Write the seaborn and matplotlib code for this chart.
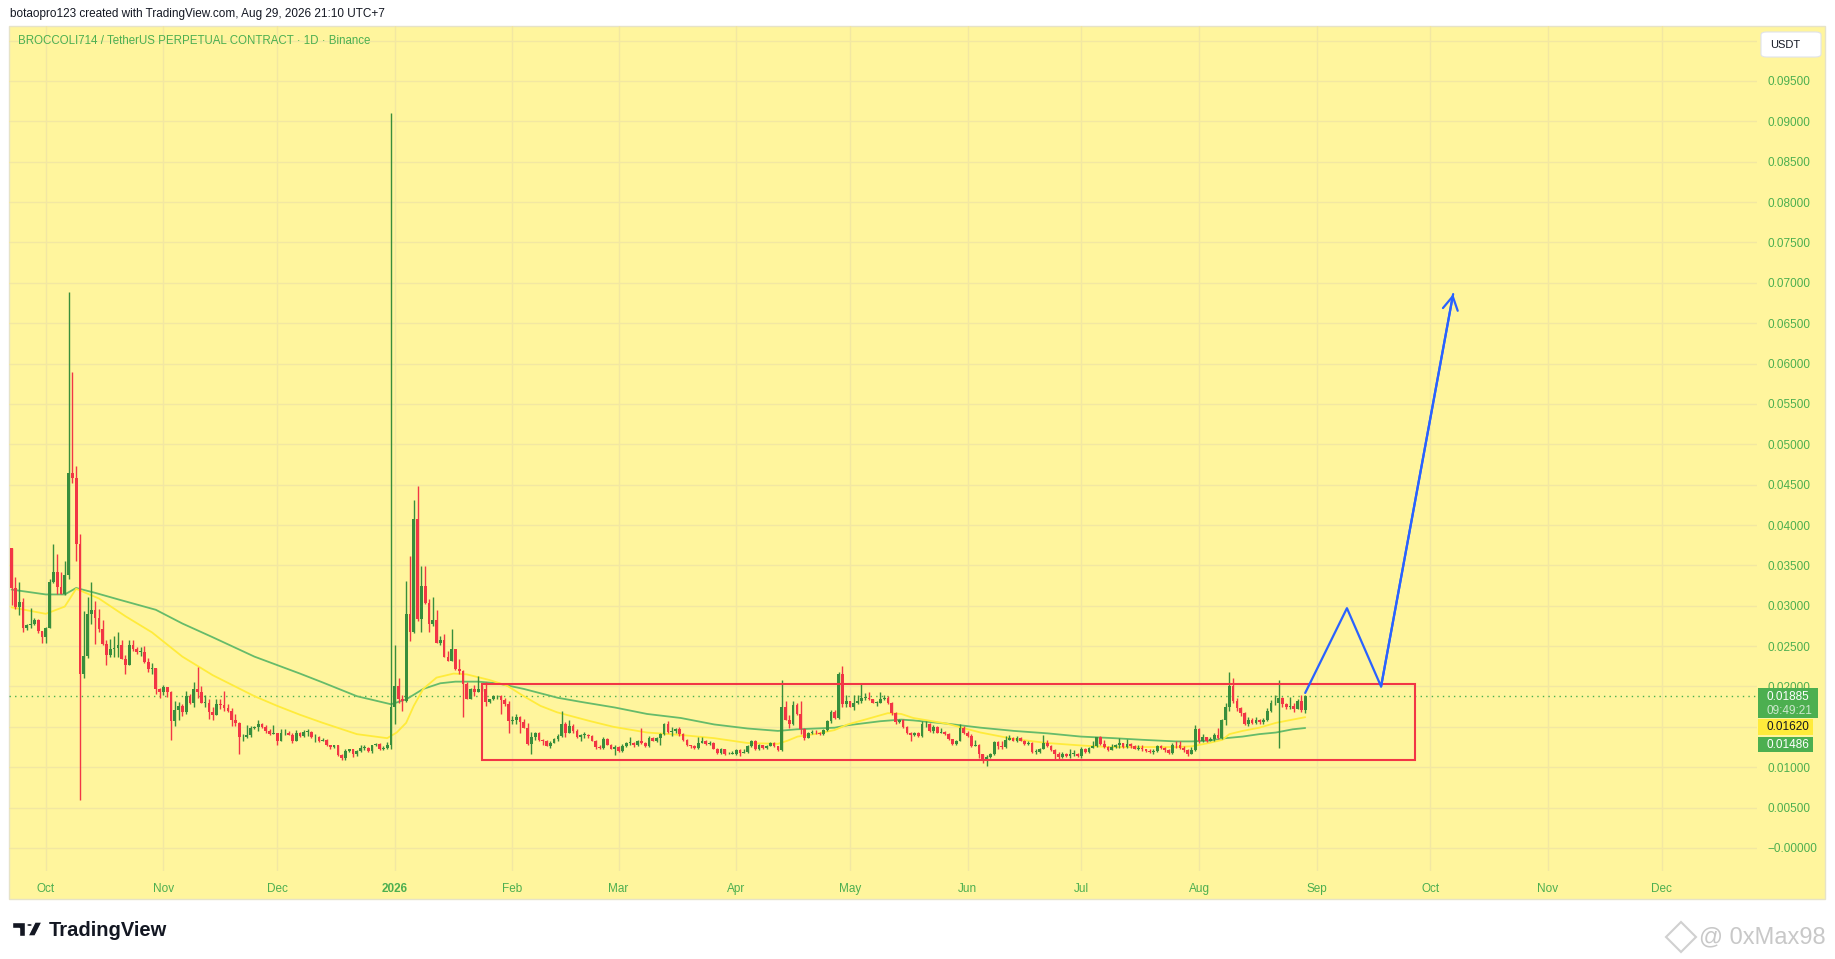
import matplotlib
matplotlib.use("Agg")
import matplotlib.pyplot as plt
from matplotlib.patches import Rectangle, FancyBboxPatch, Polygon, Circle
import matplotlib.dates as mdates
import numpy as np
import pandas as pd
import seaborn as sns

# ---- values ----
header = "botaopro123 created with TradingView.com, Aug 29, 2026 21:10 UTC+7"
symbol = "BROCCOLI714 / TetherUS PERPETUAL CONTRACT \u00b7 1D \u00b7 Binance"
first_day = "2025-09-22"
first_open = 0.0372

close = [
    0.0322, 0.0298, 0.0305, 0.0272, 0.0276, 0.0278, 0.0282, 0.0269, 0.0261, 0.0273,
    0.0329, 0.0342, 0.0323, 0.0314, 0.0338, 0.0464, 0.0458, 0.0376, 0.0216, 0.0238,
    0.0290, 0.0295, 0.0285, 0.0271, 0.0253, 0.0239, 0.0247, 0.0248, 0.0252, 0.0234,
    0.0227, 0.0251, 0.0247, 0.0243, 0.0243, 0.0230, 0.0222, 0.0223, 0.0197, 0.0193,
    0.0199, 0.0193, 0.0157, 0.0171, 0.0176, 0.0169, 0.0188, 0.0180, 0.0197, 0.0193,
    0.0180, 0.0180, 0.0169, 0.0165, 0.0178, 0.0177, 0.0173, 0.0170, 0.0159, 0.0155,
    0.0137, 0.0137, 0.0140, 0.0148, 0.0150, 0.0153, 0.0150, 0.0145, 0.0141, 0.0142,
    0.0133, 0.0142, 0.0142, 0.0140, 0.0133, 0.0142, 0.0139, 0.0144, 0.0144, 0.0137,
    0.0138, 0.0133, 0.0134, 0.0127, 0.0125, 0.0127, 0.0115, 0.0111, 0.0120, 0.0122,
    0.0116, 0.0120, 0.0124, 0.0124, 0.0120, 0.0127, 0.0129, 0.0122, 0.0124, 0.0128,
    0.0175, 0.0200, 0.0184, 0.0182, 0.0290, 0.0267, 0.0407, 0.0283, 0.0325, 0.0304,
    0.0277, 0.0282, 0.0254, 0.0257, 0.0237, 0.0232, 0.0246, 0.0222, 0.0219, 0.0203,
    0.0185, 0.0197, 0.0193, 0.0197, 0.0197, 0.0181, 0.0184, 0.0188, 0.0188, 0.0183,
    0.0178, 0.0157, 0.0159, 0.0162, 0.0156, 0.0149, 0.0129, 0.0138, 0.0142, 0.0134,
    0.0133, 0.0126, 0.0130, 0.0135, 0.0139, 0.0153, 0.0143, 0.0151, 0.0145, 0.0137,
    0.0140, 0.0140, 0.0139, 0.0133, 0.0125, 0.0124, 0.0135, 0.0128, 0.0123, 0.0125,
    0.0120, 0.0126, 0.0130, 0.0130, 0.0127, 0.0132, 0.0130, 0.0126, 0.0136, 0.0133,
    0.0136, 0.0141, 0.0153, 0.0144, 0.0145, 0.0147, 0.0141, 0.0134, 0.0127, 0.0126,
    0.0124, 0.0130, 0.0132, 0.0129, 0.0130, 0.0123, 0.0118, 0.0122, 0.0116, 0.0117,
    0.0117, 0.0121, 0.0118, 0.0119, 0.0126, 0.0133, 0.0122, 0.0128, 0.0124, 0.0126,
    0.0130, 0.0126, 0.0121, 0.0174, 0.0159, 0.0153, 0.0177, 0.0166, 0.0147, 0.0136,
    0.0143, 0.0143, 0.0142, 0.0141, 0.0146, 0.0157, 0.0169, 0.0161, 0.0215, 0.0178,
    0.0182, 0.0174, 0.0180, 0.0182, 0.0186, 0.0186, 0.0184, 0.0180, 0.0180, 0.0184,
    0.0186, 0.0179, 0.0167, 0.0156, 0.0159, 0.0150, 0.0142, 0.0140, 0.0142, 0.0139,
    0.0153, 0.0154, 0.0145, 0.0150, 0.0143, 0.0144, 0.0141, 0.0135, 0.0129, 0.0133,
    0.0148, 0.0143, 0.0139, 0.0126, 0.0127, 0.0116, 0.0110, 0.0113, 0.0117, 0.0131,
    0.0126, 0.0125, 0.0134, 0.0136, 0.0133, 0.0136, 0.0133, 0.0129, 0.0130, 0.0119,
    0.0119, 0.0123, 0.0130, 0.0126, 0.0121, 0.0117, 0.0113, 0.0117, 0.0114, 0.0117,
    0.0117, 0.0114, 0.0123, 0.0119, 0.0124, 0.0126, 0.0137, 0.0129, 0.0125, 0.0121,
    0.0125, 0.0127, 0.0130, 0.0125, 0.0129, 0.0126, 0.0123, 0.0124, 0.0122, 0.0120,
    0.0119, 0.0120, 0.0126, 0.0124, 0.0121, 0.0118, 0.0128, 0.0127, 0.0124, 0.0121,
    0.0117, 0.0121, 0.0147, 0.0132, 0.0138, 0.0133, 0.0135, 0.0140, 0.0136, 0.0159,
    0.0175, 0.0201, 0.0182, 0.0173, 0.0167, 0.0154, 0.0159, 0.0155, 0.0158, 0.0156,
    0.0159, 0.0170, 0.0179, 0.0180, 0.0186, 0.0178, 0.0175, 0.0176, 0.0172, 0.0182,
    0.0171, 0.01885,
]

high = [
    0.0372, 0.0335, 0.0329, 0.0309, 0.0278, 0.0297, 0.0285, 0.0284, 0.0262, 0.0274,
    0.0333, 0.0377, 0.0364, 0.0342, 0.0355, 0.0689, 0.0589, 0.0473, 0.0389, 0.0293,
    0.0311, 0.0329, 0.0306, 0.0296, 0.0282, 0.0258, 0.0259, 0.0262, 0.0267, 0.0257,
    0.0239, 0.0258, 0.0258, 0.0249, 0.0249, 0.0250, 0.0235, 0.0229, 0.0222, 0.0198,
    0.0202, 0.0199, 0.0194, 0.0182, 0.0181, 0.0178, 0.0195, 0.0191, 0.0206, 0.0224,
    0.0200, 0.0189, 0.0185, 0.0175, 0.0184, 0.0184, 0.0195, 0.0178, 0.0173, 0.0166,
    0.0156, 0.0141, 0.0152, 0.0151, 0.0151, 0.0159, 0.0155, 0.0152, 0.0147, 0.0152,
    0.0142, 0.0147, 0.0147, 0.0145, 0.0142, 0.0146, 0.0144, 0.0146, 0.0147, 0.0145,
    0.0141, 0.0139, 0.0136, 0.0135, 0.0128, 0.0128, 0.0128, 0.0117, 0.0123, 0.0123,
    0.0123, 0.0121, 0.0128, 0.0127, 0.0125, 0.0128, 0.0130, 0.0130, 0.0126, 0.0131,
    0.0910, 0.0251, 0.0211, 0.0189, 0.0331, 0.0362, 0.0431, 0.0448, 0.0349, 0.0349,
    0.0308, 0.0311, 0.0295, 0.0262, 0.0265, 0.0244, 0.0271, 0.0247, 0.0234, 0.0220,
    0.0205, 0.0198, 0.0202, 0.0213, 0.0200, 0.0205, 0.0185, 0.0190, 0.0190, 0.0190,
    0.0186, 0.0182, 0.0164, 0.0166, 0.0164, 0.0160, 0.0155, 0.0144, 0.0144, 0.0144,
    0.0135, 0.0134, 0.0132, 0.0136, 0.0141, 0.0170, 0.0156, 0.0158, 0.0153, 0.0147,
    0.0141, 0.0144, 0.0141, 0.0140, 0.0134, 0.0128, 0.0138, 0.0136, 0.0129, 0.0128,
    0.0126, 0.0129, 0.0131, 0.0137, 0.0131, 0.0134, 0.0148, 0.0131, 0.0139, 0.0138,
    0.0138, 0.0143, 0.0155, 0.0157, 0.0150, 0.0149, 0.0150, 0.0142, 0.0135, 0.0128,
    0.0127, 0.0137, 0.0138, 0.0134, 0.0132, 0.0131, 0.0124, 0.0124, 0.0123, 0.0119,
    0.0120, 0.0123, 0.0123, 0.0123, 0.0128, 0.0134, 0.0134, 0.0129, 0.0128, 0.0128,
    0.0131, 0.0131, 0.0126, 0.0208, 0.0182, 0.0165, 0.0182, 0.0179, 0.0182, 0.0148,
    0.0144, 0.0146, 0.0146, 0.0144, 0.0147, 0.0159, 0.0171, 0.0171, 0.0218, 0.0226,
    0.0189, 0.0182, 0.0189, 0.0189, 0.0203, 0.0192, 0.0193, 0.0185, 0.0182, 0.0193,
    0.0189, 0.0188, 0.0181, 0.0169, 0.0160, 0.0160, 0.0151, 0.0144, 0.0144, 0.0144,
    0.0157, 0.0157, 0.0155, 0.0152, 0.0151, 0.0148, 0.0145, 0.0142, 0.0135, 0.0134,
    0.0153, 0.0151, 0.0145, 0.0141, 0.0134, 0.0129, 0.0117, 0.0115, 0.0118, 0.0132,
    0.0133, 0.0133, 0.0139, 0.0140, 0.0137, 0.0139, 0.0138, 0.0134, 0.0133, 0.0131,
    0.0122, 0.0124, 0.0140, 0.0134, 0.0127, 0.0122, 0.0119, 0.0119, 0.0118, 0.0122,
    0.0121, 0.0118, 0.0125, 0.0124, 0.0125, 0.0133, 0.0138, 0.0139, 0.0134, 0.0126,
    0.0129, 0.0129, 0.0136, 0.0129, 0.0135, 0.0130, 0.0127, 0.0127, 0.0127, 0.0123,
    0.0122, 0.0123, 0.0127, 0.0128, 0.0125, 0.0122, 0.0130, 0.0132, 0.0132, 0.0126,
    0.0123, 0.0125, 0.0152, 0.0148, 0.0141, 0.0138, 0.0137, 0.0142, 0.0149, 0.0160,
    0.0179, 0.0218, 0.0210, 0.0186, 0.0175, 0.0168, 0.0162, 0.0161, 0.0162, 0.0160,
    0.0161, 0.0173, 0.0183, 0.0189, 0.0208, 0.0187, 0.0180, 0.0187, 0.0180, 0.0185,
    0.0190, 0.0189,
]

low = [
    0.0301, 0.0296, 0.0288, 0.0267, 0.0270, 0.0272, 0.0276, 0.0266, 0.0254, 0.0254,
    0.0272, 0.0328, 0.0314, 0.0314, 0.0313, 0.0333, 0.0452, 0.0356, 0.0059, 0.0210,
    0.0235, 0.0278, 0.0253, 0.0267, 0.0252, 0.0227, 0.0236, 0.0236, 0.0236, 0.0234,
    0.0216, 0.0227, 0.0244, 0.0240, 0.0238, 0.0229, 0.0218, 0.0216, 0.0191, 0.0186,
    0.0189, 0.0187, 0.0134, 0.0151, 0.0159, 0.0164, 0.0166, 0.0178, 0.0174, 0.0186,
    0.0180, 0.0174, 0.0160, 0.0158, 0.0165, 0.0172, 0.0170, 0.0168, 0.0151, 0.0151,
    0.0117, 0.0132, 0.0136, 0.0138, 0.0147, 0.0145, 0.0149, 0.0143, 0.0140, 0.0141,
    0.0127, 0.0132, 0.0140, 0.0140, 0.0130, 0.0132, 0.0137, 0.0138, 0.0139, 0.0136,
    0.0131, 0.0131, 0.0132, 0.0126, 0.0122, 0.0124, 0.0114, 0.0109, 0.0109, 0.0119,
    0.0113, 0.0114, 0.0119, 0.0121, 0.0119, 0.0118, 0.0126, 0.0121, 0.0121, 0.0122,
    0.0122, 0.0153, 0.0180, 0.0170, 0.0181, 0.0256, 0.0266, 0.0281, 0.0267, 0.0302,
    0.0268, 0.0275, 0.0254, 0.0252, 0.0236, 0.0231, 0.0231, 0.0221, 0.0216, 0.0162,
    0.0184, 0.0184, 0.0188, 0.0193, 0.0194, 0.0176, 0.0180, 0.0183, 0.0184, 0.0166,
    0.0176, 0.0143, 0.0154, 0.0154, 0.0143, 0.0148, 0.0127, 0.0116, 0.0134, 0.0133,
    0.0127, 0.0126, 0.0124, 0.0130, 0.0133, 0.0137, 0.0137, 0.0142, 0.0143, 0.0136,
    0.0133, 0.0136, 0.0136, 0.0132, 0.0123, 0.0123, 0.0123, 0.0127, 0.0122, 0.0115,
    0.0119, 0.0119, 0.0125, 0.0128, 0.0125, 0.0126, 0.0129, 0.0125, 0.0125, 0.0132,
    0.0131, 0.0128, 0.0140, 0.0142, 0.0139, 0.0143, 0.0139, 0.0133, 0.0126, 0.0124,
    0.0123, 0.0123, 0.0131, 0.0128, 0.0128, 0.0122, 0.0117, 0.0117, 0.0115, 0.0116,
    0.0116, 0.0115, 0.0114, 0.0118, 0.0118, 0.0125, 0.0121, 0.0121, 0.0123, 0.0123,
    0.0126, 0.0125, 0.0120, 0.0120, 0.0158, 0.0149, 0.0152, 0.0165, 0.0141, 0.0134,
    0.0136, 0.0141, 0.0141, 0.0140, 0.0140, 0.0145, 0.0155, 0.0160, 0.0160, 0.0174,
    0.0174, 0.0174, 0.0171, 0.0178, 0.0180, 0.0183, 0.0183, 0.0179, 0.0176, 0.0179,
    0.0183, 0.0178, 0.0165, 0.0154, 0.0155, 0.0149, 0.0141, 0.0133, 0.0139, 0.0138,
    0.0138, 0.0150, 0.0144, 0.0142, 0.0142, 0.0143, 0.0140, 0.0134, 0.0127, 0.0127,
    0.0132, 0.0141, 0.0138, 0.0125, 0.0126, 0.0111, 0.0105, 0.0102, 0.0112, 0.0115,
    0.0122, 0.0122, 0.0124, 0.0134, 0.0132, 0.0131, 0.0132, 0.0128, 0.0127, 0.0118,
    0.0117, 0.0118, 0.0122, 0.0125, 0.0120, 0.0110, 0.0110, 0.0111, 0.0113, 0.0112,
    0.0114, 0.0113, 0.0111, 0.0118, 0.0118, 0.0125, 0.0125, 0.0127, 0.0124, 0.0120,
    0.0121, 0.0124, 0.0124, 0.0124, 0.0124, 0.0124, 0.0122, 0.0121, 0.0120, 0.0119,
    0.0118, 0.0117, 0.0119, 0.0122, 0.0119, 0.0117, 0.0117, 0.0124, 0.0122, 0.0119,
    0.0114, 0.0116, 0.0120, 0.0130, 0.0131, 0.0131, 0.0132, 0.0133, 0.0135, 0.0135,
    0.0152, 0.0170, 0.0180, 0.0170, 0.0163, 0.0152, 0.0151, 0.0153, 0.0154, 0.0154,
    0.0154, 0.0157, 0.0169, 0.0177, 0.0124, 0.0175, 0.0172, 0.0172, 0.0168, 0.0172,
    0.0169, 0.0167,
]

# moving average lines, as (day offset from first_day, value)
ma_slow_day = [0, 9, 14, 17, 22, 28, 38, 45, 53, 64, 76, 82, 91, 100, 104, 108.5,
               113, 117, 123, 128, 135, 144, 150, 159, 167.5, 176.4, 185.2, 194, 202,
               207, 212, 217, 220.4, 229, 234.5, 237.7, 246.5, 255.4, 264.2, 273,
               281.8, 290.6, 298, 306.8, 311.2, 315.6, 320, 324.5, 328.9, 333.3,
               337.7, 341]
ma_slow = [0.0320, 0.0314, 0.0314, 0.0322, 0.0316, 0.0308, 0.0295, 0.0278, 0.0261,
           0.0237, 0.0216, 0.0205, 0.0188, 0.0178, 0.0184, 0.0197, 0.0204, 0.0206,
           0.0206, 0.0204, 0.0197, 0.0186, 0.0181, 0.0174, 0.0166, 0.0161, 0.0153,
           0.0148, 0.0145, 0.0147, 0.0148, 0.0149, 0.0152, 0.0157, 0.0159, 0.0158,
           0.0154, 0.0149, 0.0145, 0.0142, 0.0138, 0.0136, 0.0134, 0.0132, 0.0132,
           0.0133, 0.0136, 0.0138, 0.0141, 0.0143, 0.0147, 0.01486]
ma_fast_day = [0, 9, 14, 17, 23, 30, 37, 45, 53, 64, 70, 76, 82, 91, 99, 101.5, 104,
               106, 108.5, 112, 116.5, 120, 126, 130.6, 135, 139.4, 143.8, 152.6,
               158.7, 167.5, 176.4, 185.2, 194, 202, 204.6, 207.2, 211.6, 216.9,
               220.4, 225.7, 231, 234.5, 237.7, 246.5, 255.4, 264.2, 273, 281.8,
               289.2, 298, 306.8, 311.2, 315.6, 319.2, 321, 324.5, 328.9, 333.3,
               337.7, 341]
ma_fast = [0.0298, 0.0290, 0.0299, 0.0321, 0.0309, 0.0287, 0.0267, 0.0237, 0.0214,
           0.0188, 0.0176, 0.0165, 0.0155, 0.0141, 0.0136, 0.0143, 0.0155, 0.0176,
           0.0197, 0.0211, 0.0216, 0.0215, 0.0208, 0.0201, 0.0188, 0.0176, 0.0168,
           0.0157, 0.0150, 0.0143, 0.0140, 0.0136, 0.0130, 0.0129, 0.0133, 0.0138,
           0.0141, 0.0146, 0.0153, 0.0160, 0.0167, 0.0166, 0.0161, 0.0154, 0.0143,
           0.0135, 0.0130, 0.0127, 0.0125, 0.0125, 0.0125, 0.0126, 0.0130, 0.0134,
           0.0141, 0.0145, 0.0149, 0.0155, 0.0159, 0.0162]

last_price = 0.01885
ma_fast_last = 0.01620
ma_slow_last = 0.01486
countdown = "09:49:21"

# drawn range box and projected path (day offset, price)
box_day = [124, 370]
box_price = [0.0109, 0.0203]
path_day = [341, 352, 361, 380]
path_price = [0.0192, 0.0297, 0.0200, 0.0686]

price_ticks = [0.0, 0.005, 0.010, 0.015, 0.020, 0.025, 0.030, 0.035, 0.040, 0.045,
               0.050, 0.055, 0.060, 0.065, 0.070, 0.075, 0.080, 0.085, 0.090, 0.095]
hidden_grid = [0.100]  # grid line behind the currency button, no label
month_ticks = ["2025-10-01", "2025-11-01", "2025-12-01", "2026-01-01", "2026-02-01",
               "2026-03-01", "2026-04-01", "2026-05-01", "2026-06-01", "2026-07-01",
               "2026-08-01", "2026-09-01", "2026-10-01", "2026-11-01", "2026-12-01"]
month_labels = ["Oct", "Nov", "Dec", "2026", "Feb", "Mar", "Apr", "May", "Jun", "Jul",
                "Aug", "Sep", "Oct", "Nov", "Dec"]

# ---- style ----
BG = "#FFF59D"
GRID = "#F2E7A2"
GREEN_TXT = "#4CAF50"
UP = "#388E3C"
DOWN = "#F23645"
MA_SLOW_C = "#66BB6A"
MA_FAST_C = "#FFEB3B"
BLUE = "#2962FF"

sns.set_theme(style="white")
plt.rcParams["font.family"] = ["Liberation Sans", "DejaVu Sans"]

W, H = 1835, 959
fig = plt.figure(figsize=(W / 100, H / 100), dpi=100)
fig.patch.set_facecolor("white")


def fbox(x0, y0, x1, y1):
    # pixel box (top-left origin) -> figure fraction rect
    return [x0 / W, 1 - y1 / H, (x1 - x0) / W, (y1 - y0) / H]


r = fbox(9, 26, 1825, 899)
fig.patches.append(Rectangle((r[0], r[1]), r[2], r[3], transform=fig.transFigure,
                             facecolor=BG, edgecolor="#E6E3C8", lw=1, zorder=-5))

ax = fig.add_axes(fbox(9, 26, 1757, 871))
ax.set_facecolor("none")
for s in ax.spines.values():
    s.set_visible(False)

t0 = pd.Timestamp(first_day)
df = pd.DataFrame({
    "date": pd.date_range(first_day, periods=len(close), freq="D"),
    "close": close, "high": high, "low": low,
})
df["open"] = [first_open] + close[:-1]
up = df["close"] >= df["open"]
cols = np.where(up, UP, DOWN)
body_lo = df[["open", "close"]].min(axis=1)
body_hi = df[["open", "close"]].max(axis=1)
body_h = (body_hi - body_lo).clip(lower=0.00008)
wick_hi = np.maximum(df["high"], body_hi)
wick_lo = np.minimum(df["low"], body_lo)

# moving averages
sns.lineplot(x=t0 + pd.to_timedelta(ma_slow_day, unit="D"), y=ma_slow, ax=ax,
             color=MA_SLOW_C, lw=1.3, zorder=2)
sns.lineplot(x=t0 + pd.to_timedelta(ma_fast_day, unit="D"), y=ma_fast, ax=ax,
             color=MA_FAST_C, lw=1.3, zorder=2)

# candles
ax.vlines(df["date"], wick_lo, wick_hi, colors=cols, lw=1.0, zorder=3)
ax.bar(df["date"], body_h, bottom=body_lo, width=0.72, color=cols, lw=0, zorder=3)

# last price dotted line
ax.axhline(last_price, color=GREEN_TXT, lw=1.0, ls=(0, (1, 3)), zorder=1)

# range box
bx0 = mdates.date2num(t0 + pd.Timedelta(days=box_day[0]))
bx1 = mdates.date2num(t0 + pd.Timedelta(days=box_day[1]))
ax.add_patch(Rectangle((bx0, box_price[0]), bx1 - bx0, box_price[1] - box_price[0],
                       fill=False, edgecolor=DOWN, lw=1.5, zorder=4))

# projected path with arrow head
path_x = t0 + pd.to_timedelta(path_day, unit="D")
sns.lineplot(x=path_x, y=path_price, ax=ax, sort=False, color=BLUE, lw=1.6, zorder=5)
ax.annotate("", xy=(path_x[-1], path_price[-1]), xytext=(path_x[-2], path_price[-2]),
            arrowprops=dict(arrowstyle="->,head_length=0.8,head_width=0.45",
                            color=BLUE, lw=1.6, shrinkA=0, shrinkB=0), zorder=5)

# axes
ax.set_ylim(-0.00285, 0.1018)
ax.set_xlim(t0 - pd.Timedelta(days=0.7), t0 + pd.Timedelta(days=460.1))
ax.yaxis.tick_right()
ax.set_yticks(price_ticks)
ax.set_yticks(hidden_grid, minor=True)
ax.set_yticklabels([("\u2212" if v == 0 else "") + f"{v:.5f}" for v in price_ticks])
ax.set_xticks(pd.to_datetime(month_ticks))
ax.set_xticklabels(month_labels)
ax.get_xticklabels()[3].set_fontweight("bold")
ax.tick_params(axis="y", which="both", length=0, pad=7.2, labelsize=8.5,
               labelcolor=GREEN_TXT)
ax.tick_params(axis="x", length=0, pad=8.5, labelsize=8.5, labelcolor=GREEN_TXT)
ax.grid(True, which="both", color=GRID, lw=1.0, zorder=0)
ax.set_axisbelow(True)
ax.set_xlabel("")
ax.set_ylabel("")

ax.text(9 / 1748, 1 - 15 / 845, symbol, transform=ax.transAxes,
        ha="left", va="center", fontsize=8.3, color=GREEN_TXT)

# header
fig.text(10 / W, 1 - 14 / H, header, ha="left", va="center", fontsize=8.5,
         color="#131722")

# price scale labels
def scale_label(y0, y1, x1, face, text, tcol, sub=None):
    b = fbox(1758, y0, x1, y1)
    fig.patches.append(Rectangle((b[0], b[1]), b[2], b[3], transform=fig.transFigure,
                                 facecolor=face, edgecolor="none", zorder=2))
    if sub is None:
        fig.text(1766 / W, 1 - (y0 + y1) / 2 / H, text, ha="left", va="center",
                 fontsize=8.5, color=tcol, zorder=3)
    else:
        fig.text(1766 / W, 1 - (y0 + 9) / H, text, ha="left", va="center",
                 fontsize=8.5, color=tcol, zorder=3)
        fig.text(1766 / W, 1 - (y0 + 23) / H, sub, ha="left", va="center",
                 fontsize=8.5, color="#CDE8CD", zorder=3)


scale_label(688, 718, 1818, GREEN_TXT, f"{last_price:.5f}", "white", sub=countdown)
scale_label(719, 735, 1813, "#FFEB3B", f"{ma_fast_last:.5f}", "#131722")
scale_label(737, 752, 1813, GREEN_TXT, f"{ma_slow_last:.5f}", "white")

u = fbox(1761, 32, 1821, 57)
fig.patches.append(FancyBboxPatch((u[0], u[1]), u[2], u[3], transform=fig.transFigure,
                                  boxstyle="round,pad=0,rounding_size=0.003",
                                  facecolor="white", edgecolor="#E0E3EB", lw=0.8,
                                  zorder=2))
fig.text(1770 / W, 1 - 44.5 / H, "USDT", ha="left", va="center", fontsize=8,
         color="#131722", zorder=3)

# TradingView logo
def P(x, y):
    return (x / W, 1 - y / H)


fig.patches.append(Polygon([P(12, 922), P(25, 922), P(25, 936), P(19, 936),
                            P(19, 928), P(12, 928)], closed=True,
                           transform=fig.transFigure, facecolor="#131722", zorder=2))
fig.patches.append(Circle(P(29.5, 925), 3 / W, transform=fig.transFigure,
                          facecolor="#131722", zorder=2))
fig.patches.append(Polygon([P(35, 922), P(42, 922), P(35, 936), P(28, 936)],
                           closed=True, transform=fig.transFigure,
                           facecolor="#131722", zorder=2))
fig.text(49 / W, 1 - 930 / H, "TradingView", ha="left", va="center", fontsize=14.5,
         fontweight="bold", color="#131722")

# watermark
fig.patches.append(Polygon([P(1681, 922), P(1696, 937), P(1681, 952), P(1666, 937)],
                           closed=True, transform=fig.transFigure, facecolor="none",
                           edgecolor="#D0D0D0", lw=1.5, zorder=2))
fig.text(1699 / W, 1 - 937 / H, "@ 0xMax98", ha="left", va="center", fontsize=17,
         color="#C8C8C8")

fig.savefig("out.png", dpi=100, facecolor="white")
